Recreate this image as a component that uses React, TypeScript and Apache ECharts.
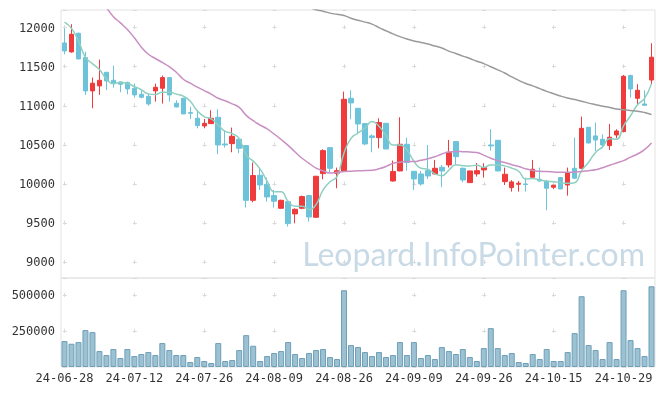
import React, { useEffect, useRef } from 'react';
import * as echarts from 'echarts';

const dates = [
  '24-06-28', '24-07-01', '24-07-02', '24-07-03', '24-07-04', '24-07-05', '24-07-08', '24-07-09', '24-07-10', '24-07-11',
  '24-07-12', '24-07-15', '24-07-16', '24-07-17', '24-07-18', '24-07-19', '24-07-22', '24-07-23', '24-07-24', '24-07-25',
  '24-07-26', '24-07-29', '24-07-30', '24-07-31', '24-08-01', '24-08-02', '24-08-05', '24-08-06', '24-08-07', '24-08-08',
  '24-08-09', '24-08-12', '24-08-13', '24-08-14', '24-08-16', '24-08-19', '24-08-20', '24-08-21', '24-08-22', '24-08-23',
  '24-08-26', '24-08-27', '24-08-28', '24-08-29', '24-08-30', '24-09-02', '24-09-03', '24-09-04', '24-09-05', '24-09-06',
  '24-09-09', '24-09-10', '24-09-11', '24-09-12', '24-09-13', '24-09-19', '24-09-20', '24-09-23', '24-09-24', '24-09-25',
  '24-09-26', '24-09-27', '24-09-30', '24-10-02', '24-10-04', '24-10-07', '24-10-08', '24-10-10', '24-10-11', '24-10-14',
  '24-10-15', '24-10-16', '24-10-17', '24-10-18', '24-10-21', '24-10-22', '24-10-23', '24-10-24', '24-10-25', '24-10-28',
  '24-10-29', '24-10-30', '24-10-31', '24-11-01', '24-11-04',
];

const opens = [
  11804, 11689, 11928, 11617, 11191, 11255, 11429, 11327, 11306, 11297,
  11225, 11148, 11122, 11191, 11225, 11361, 11033, 11097, 10914, 10841,
  10743, 10773, 10854, 10513, 10517, 10573, 10492, 9793, 10113, 9998,
  9853, 9691, 9776, 9619, 9691, 9853, 9576, 10134, 10466, 10138,
  10168, 11097, 10969, 10773, 10616, 10594, 10777, 10040, 10168, 10509,
  10164, 10130, 10172, 10130, 10215, 10245, 10543, 10202, 10019, 10130,
  10181, 10500, 10560, 10032, 9955, 9998, 10002, 10087, 10062, 10040,
  9960, 10083, 9989, 10202, 10202, 10726, 10616, 10573, 10492, 10628,
  10671, 11387, 11097, 11024, 11330,
];
const closes = [
  11702, 11915, 11600, 11191, 11289, 11327, 11318, 11289, 11276, 11216,
  11140, 11110, 11024, 11237, 11361, 11140, 10986, 10897, 10905, 10748,
  10777, 10841, 10500, 10500, 10611, 10458, 9793, 10109, 9989, 9836,
  9781, 9793, 9495, 9678, 9840, 9580, 10100, 10428, 10202, 10172,
  11084, 11037, 10769, 10513, 10594, 10786, 10449, 10160, 10509, 10275,
  10066, 10002, 10104, 10202, 10168, 10407, 10351, 10053, 10168, 10172,
  10211, 10488, 10168, 10126, 10028, 10011, 9994, 10190, 10040, 9947,
  9985, 9938, 10147, 10075, 10713, 10526, 10564, 10500, 10599, 10679,
  11378, 11216, 11199, 11007, 11621,
];
const lows = [
  11659, 11680, 11595, 11140, 10969, 11140, 11203, 11233, 11174, 11148,
  11105, 11097, 11003, 11054, 11029, 11054, 10980, 10895, 10833, 10713,
  10713, 10768, 10385, 10466, 10407, 10394, 9700, 9768, 9925, 9776,
  9700, 9688, 9457, 9499, 9680, 9521, 9570, 10062, 10147, 9947,
  10165, 10829, 10637, 10496, 10407, 10458, 10445, 10032, 10165, 10172,
  9925, 9981, 10066, 10125, 9960, 10211, 10245, 10023, 10015, 10096,
  10083, 10428, 10165, 9989, 9904, 9904, 9904, 10066, 10032, 9666,
  9938, 9935, 9853, 10066, 10195, 10520, 10424, 10458, 10437, 10586,
  10662, 11105, 11020, 11005, 11276,
];
const highs = [
  11991, 12043, 11935, 11693, 11361, 11591, 11432, 11514, 11312, 11310,
  11284, 11191, 11157, 11284, 11387, 11365, 11071, 11102, 10986, 10948,
  10833, 10944, 10956, 10679, 10722, 10580, 10495, 10275, 10194, 10083,
  9925, 9800, 9782, 9690, 9853, 9858, 10105, 10445, 10468, 10211,
  11182, 11199, 10972, 10778, 10637, 10841, 10780, 10300, 10854, 10594,
  10167, 10168, 10500, 10309, 10245, 10564, 10550, 10211, 10172, 10270,
  10266, 10701, 10562, 10211, 10050, 10040, 10083, 10309, 10211, 10053,
  9990, 10092, 10211, 10594, 10863, 10730, 10786, 10637, 10769, 10701,
  11395, 11399, 11276, 11199, 11800,
];

const ma5 = [
  12070, 11990, 11830, 11620, 11539, 11464, 11345, 11283, 11300, 11285,
  11248, 11206, 11153, 11145, 11174, 11174, 11150, 11124, 11058, 10935,
  10863, 10834, 10754, 10673, 10646, 10582, 10372, 10294, 10192, 10037,
  9902, 9902, 9779, 9717, 9717, 9677, 9739, 9925, 10030, 10096,
  10397, 10585, 10653, 10715, 10799, 10740, 10622, 10500, 10500, 10436,
  10292, 10202, 10191, 10130, 10108, 10177, 10246, 10236, 10232, 10240,
  10215, 10245, 10245, 10233, 10204, 10164, 10065, 10070, 10053, 10036,
  10031, 10020, 10011, 10018, 10172, 10280, 10405, 10476, 10580, 10574,
  10744, 10874, 11014, 11096, 11284,
];
const ma20 = [
  12900, 12780, 12650, 12520, 12420, 12330, 12250, 12140, 12060, 11975,
  11870, 11750, 11660, 11605, 11555, 11500, 11430, 11340, 11290, 11240,
  11195, 11150, 11097, 11065, 11025, 10980, 10878, 10810, 10755, 10705,
  10640, 10570, 10495, 10410, 10330, 10265, 10205, 10170, 10142, 10150,
  10160, 10165, 10170, 10173, 10176, 10195, 10225, 10265, 10280, 10290,
  10288, 10305, 10325, 10350, 10385, 10410, 10418, 10415, 10410, 10405,
  10370, 10330, 10300, 10275, 10248, 10225, 10195, 10175, 10163, 10160,
  10155, 10150, 10150, 10153, 10160, 10172, 10184, 10210, 10240, 10270,
  10300, 10345, 10385, 10440, 10525,
];
const ma60 = [
  null, null, null, null, null, null, null, null, null, null,
  null, null, null, null, null, null, null, null, null, null,
  null, null, null, null, null, null, null, null, null, null,
  null, null, null, 12330, 12295, 12258, 12228, 12210, 12185, 12170,
  12155, 12120, 12095, 12070, 12045, 12000, 11960, 11920, 11885, 11855,
  11830, 11810, 11790, 11765, 11740, 11700, 11670, 11635, 11605, 11570,
  11540, 11500, 11460, 11420, 11370, 11325, 11285, 11255, 11220, 11185,
  11155, 11125, 11100, 11080, 11060, 11035, 11015, 10995, 10980, 10960,
  10950, 10940, 10932, 10915, 10890,
];
const volumes = [
  180600, 162000, 173600, 257000, 243000, 111000, 83300, 125000, 62500, 125000,
  76400, 90300, 104000, 83300, 166700, 118000, 83300, 83300, 34700, 69500,
  41700, 27800, 166700, 41700, 48600, 118000, 222000, 148000, 41700, 76400,
  97200, 111000, 173600, 90300, 62500, 97200, 118000, 125000, 69500, 55600,
  534800, 152800, 138900, 104000, 76400, 104000, 69500, 83300, 173600, 83300,
  173600, 62500, 83300, 55600, 138900, 111000, 90300, 125000, 69500, 41700,
  132000, 270800, 132000, 83300, 97200, 34700, 27800, 90300, 55600, 125000,
  41700, 41700, 104000, 236000, 493000, 152800, 118000, 55600, 173600, 55600,
  534800, 187500, 132000, 76400, 562500,
];

const priceMin = 8800;
const priceMax = 12225;
const volMax = 620000;
const volInterval = 250000;
const watermark = 'Leopard.InfoPointer.com';

export default function App() {
  const ref = useRef<HTMLDivElement>(null);
  useEffect(() => {
    const chart = echarts.init(ref.current!, null, { renderer: 'svg' });
    const candle = dates.map((_, i) => [opens[i], closes[i], lows[i], highs[i]]);
    const labelFont = { fontFamily: '"DejaVu Sans Mono", monospace', fontSize: 12, color: '#333' };
    const plain = (v: number) => String(v);
    const gridColor = '#e3e3e3';
    const plusColor = '#d9d9d9';
    chart.setOption({
      animation: false,
      grid: [
        { left: 61, right: 10, top: 10, height: 268, show: true, borderColor: gridColor, borderWidth: 1 },
        { left: 61, right: 10, top: 278, height: 89, show: true, borderColor: gridColor, borderWidth: 1 },
      ],
      xAxis: [
        {
          type: 'category', gridIndex: 0, data: dates, boundaryGap: true,
          axisLine: { show: false }, axisTick: { show: false, interval: 9, alignWithLabel: true },
          axisLabel: { show: false },
          splitLine: {
            show: true, interval: 9, alignWithLabel: true,
            lineStyle: { color: plusColor, width: 1, type: [4, 35.124], dashOffset: 23.518 },
          },
        },
        {
          type: 'category', gridIndex: 1, data: dates, boundaryGap: true,
          axisLine: { show: false }, axisTick: { show: false, interval: 9, alignWithLabel: true },
          axisLabel: { interval: 9, margin: 5, ...labelFont },
          splitLine: {
            show: true, interval: 9, alignWithLabel: true,
            lineStyle: { color: plusColor, width: 1, type: [4, 31.887], dashOffset: 20.66 },
          },
        },
      ],
      yAxis: [
        {
          type: 'value', gridIndex: 0, min: priceMin, max: priceMax, scale: true,
          axisLine: { show: false }, axisTick: { show: false },
          axisLabel: { showMinLabel: false, showMaxLabel: false, margin: 6, formatter: plain, ...labelFont },
          splitLine: { show: true, lineStyle: { color: plusColor, width: 1, type: [4, 65.88], dashOffset: 68.39 } },
        },
        {
          type: 'value', gridIndex: 1, min: 0, max: volMax, interval: volInterval,
          axisLine: { show: false }, axisTick: { show: false },
          axisLabel: { showMinLabel: false, showMaxLabel: false, margin: 6, formatter: plain, ...labelFont },
          splitLine: { show: true, lineStyle: { color: plusColor, width: 1, type: [4, 65.88], dashOffset: 68.39 } },
        },
      ],
      graphic: [
        {
          type: 'text', x: 645, y: 253, z: 0, silent: true,
          style: {
            text: watermark, fill: '#c8dae6',
            font: '32px Lato',
            align: 'right', verticalAlign: 'middle',
            textAlign: 'right', textVerticalAlign: 'middle',
          },
        },
      ],
      series: [
        {
          type: 'candlestick', xAxisIndex: 0, yAxisIndex: 0, data: candle, barWidth: 5,
          itemStyle: { color: '#ef3b3b', color0: '#6cc3da', borderColor: '#ef3b3b', borderColor0: '#6cc3da', borderWidth: 1 },
        },
        {
          type: 'line', xAxisIndex: 0, yAxisIndex: 0, data: ma5, symbol: 'none', smooth: true,
          lineStyle: { color: '#8dcfc1', width: 1.5 },
        },
        {
          type: 'line', xAxisIndex: 0, yAxisIndex: 0, data: ma20, symbol: 'none', smooth: true,
          lineStyle: { color: '#c98fc3', width: 1.5 },
        },
        {
          type: 'line', xAxisIndex: 0, yAxisIndex: 0, data: ma60, symbol: 'none', smooth: true,
          lineStyle: { color: '#9a9a9a', width: 1.5 },
        },
        {
          type: 'bar', xAxisIndex: 1, yAxisIndex: 1, data: volumes, barWidth: 6,
          itemStyle: { color: '#9bc1d3', borderColor: '#6f9fb7', borderWidth: 1 },
        },
      ],
    });
    return () => chart.dispose();
  }, []);
  return <div ref={ref} style={{ position: 'fixed', left: 0, top: 0, width: 665, height: 396 }} />;
}
